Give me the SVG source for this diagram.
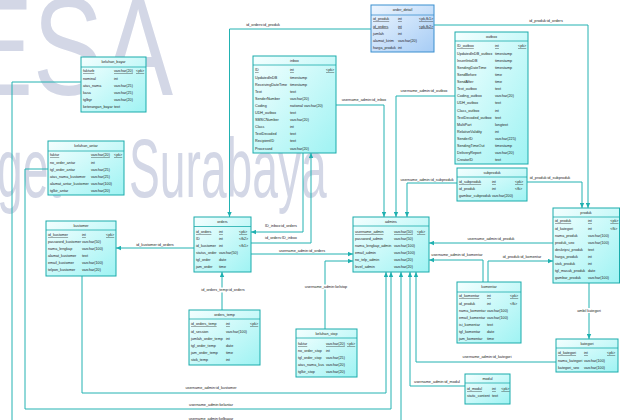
<svg xmlns="http://www.w3.org/2000/svg" width="621" height="420" viewBox="0 0 621 420">
  <defs>
    <linearGradient id="gT" x1="0" y1="0" x2="1" y2="1">
      <stop offset="0" stop-color="#f4ffff"/>
      <stop offset="1" stop-color="#9ff3f3"/>
    </linearGradient>
    <linearGradient id="gB" x1="0" y1="0" x2="1" y2="1">
      <stop offset="0" stop-color="#eef6ff"/>
      <stop offset="1" stop-color="#a6ccf5"/>
    </linearGradient>
    <marker id="arr" viewBox="0 0 8 8" refX="8" refY="4" markerWidth="5" markerHeight="5" markerUnits="userSpaceOnUse" orient="auto">
      <path d="M0,0.5 L8,4 L0,7.5 z" fill="#1fb0b0"/>
    </marker>
  </defs>
  <style>
    .wm { font-family: "Liberation Sans", Arial, sans-serif; fill: #d3d7e6; }
    .tb { fill: url(#gT); stroke: #1aabab; stroke-width: 1; }
    .tbb { fill: url(#gB); stroke: #3a8fcf; stroke-width: 1; }
    .sep { stroke: #1aabab; stroke-width: 0.8; }
    .sepb { stroke: #3a8fcf; stroke-width: 0.8; }
    text.t { font-family: "Liberation Sans", Arial, sans-serif; font-size: 3.7px; fill: #222; }
    text.l { font-family: "Liberation Sans", Arial, sans-serif; font-size: 3.8px; fill: #222; text-anchor: middle; }
    .h { text-anchor: middle; }
    .pk { text-decoration: underline; }
    .cn { fill: none; stroke: #22b2b2; stroke-width: 1; marker-end: url(#arr); }
    .bg { fill: #ffffff; }
  </style>

  <rect width="621" height="420" fill="#ffffff"/>

  <!-- watermark lettering -->
  <g id="watermark">
    <text class="wm" font-size="140" transform="translate(-37,95) scale(0.75,1)">ESA</text>
    <text class="wm" font-size="84" word-spacing="100" transform="translate(-3,197) scale(0.55,1)">get Surabaya</text>
  </g>

  <!-- relationships -->
  <g id="connectors">
    <path class="cn" d="M371,29 H229.5 V217"/>
    <path class="cn" d="M434,25 H588 V208"/>
    <path class="cn" d="M336,105 H384 V217"/>
    <path class="cn" d="M455,96 H396 V217"/>
    <path class="cn" d="M457,183 H407 V217"/>
    <path class="cn" d="M527,182 H582 V208"/>
    <path class="cn" d="M553,243 H429"/>
    <path class="cn" d="M483,282 V260 H429"/>
    <path class="cn" d="M488,282 V261 H553"/>
    <path class="cn" d="M589,283 V339"/>
    <path class="cn" d="M556,362 H416 V272"/>
    <path class="cn" d="M465,386 H410 V272"/>
    <path class="cn" d="M81,82 H12 V426 H401 V272"/>
    <path class="cn" d="M48,169 H25 V409 H391 V272"/>
    <path class="cn" d="M82,276 V393 H386 V272"/>
    <path class="cn" d="M194,248 H116"/>
    <path class="cn" d="M303,153 V232 H251"/>
    <path class="cn" d="M251,243 H311 V153"/>
    <path class="cn" d="M251,254 H353"/>
    <path class="cn" d="M325,329 V261 H353"/>
    <path class="cn" d="M222,310 V272"/>

    <rect class="bg" x="576" y="308" width="26" height="5"/>
    <rect class="bg" x="304" y="284.5" width="44" height="5"/>
    <rect class="bg" x="200" y="287.5" width="45" height="5"/>

    <text class="l" x="263" y="25.5">id_orders:id_produk</text>
    <text class="l" x="546" y="21.5">id_produk:id_orders</text>
    <text class="l" x="364" y="100.5">username_admin:id_inbox</text>
    <text class="l" x="424" y="91.5">username_admin:id_outbox</text>
    <text class="l" x="427" y="180.5">username_admin:id_subproduk</text>
    <text class="l" x="550" y="178.5">id_produk:id_subproduk</text>
    <text class="l" x="491" y="240">username_admin:id_produk</text>
    <text class="l" x="457" y="255.5">username_admin:id_komentar</text>
    <text class="l" x="522" y="257.5">id_produk:id_komentar</text>
    <text class="l" x="589" y="312.3">ambil kategori</text>
    <text class="l" x="487" y="357.5">username_admin:id_kategori</text>
    <text class="l" x="437" y="382.5">username_admin:id_modul</text>
    <text class="l" x="211" y="419.5">username_admin:kelbayar</text>
    <text class="l" x="211" y="406">username_admin:kelantar</text>
    <text class="l" x="211" y="388.5">username_admin:id_kustomer</text>
    <text class="l" x="155" y="246">id_kustomer:id_orders</text>
    <text class="l" x="281" y="226.5">ID_inbox:id_orders</text>
    <text class="l" x="281" y="239">id_orders:ID_inbox</text>
    <text class="l" x="302" y="251.5">username_admin:id_orders</text>
    <text class="l" x="326" y="288.3">username_admin:kelstop</text>
    <text class="l" x="223" y="291.3">id_orders_temp:id_orders</text>
  </g>

  <g id="order_detail">
    <rect class="tbb" x="371" y="5" width="63" height="47"/>
    <line class="sepb" x1="371" y1="15" x2="434" y2="15"/>
    <text class="t h" x="402.5" y="11.4">order_detail</text>
    <text class="t pk" y="20.4"><tspan x="373">id_produk</tspan><tspan x="398">int</tspan><tspan x="419">&lt;pk,fk1&gt;</tspan></text>
    <text class="t pk" y="27.6"><tspan x="373">id_orders</tspan><tspan x="398">int</tspan><tspan x="419">&lt;pk,fk2&gt;</tspan></text>
    <text class="t" y="34.8"><tspan x="373">jumlah</tspan><tspan x="398">int</tspan></text>
    <text class="t" y="42"><tspan x="373">alamat_kirim</tspan><tspan x="398">varchar(20)</tspan></text>
    <text class="t" y="49.2"><tspan x="373">harga_produk</tspan><tspan x="398">int</tspan></text>
  </g>

  <g id="keluhan_bayar">
    <rect class="tb" x="81" y="57" width="65" height="55"/>
    <line class="sep" x1="81" y1="67" x2="146" y2="67"/>
    <text class="t h" x="113.5" y="63.4">keluhan_bayar</text>
    <text class="t pk" y="72.4"><tspan x="83">fakturb</tspan><tspan x="114">varchar(20)</tspan><tspan x="136">&lt;pk&gt;</tspan></text>
    <text class="t" y="79.5"><tspan x="83">nominal</tspan><tspan x="114">int</tspan></text>
    <text class="t" y="86.6"><tspan x="83">atas_nama</tspan><tspan x="114">varchar(25)</tspan></text>
    <text class="t" y="93.7"><tspan x="83">kasa</tspan><tspan x="114">varchar(25)</tspan></text>
    <text class="t" y="100.8"><tspan x="83">tglbyr</tspan><tspan x="114">varchar(20)</tspan></text>
    <text class="t" y="107.9"><tspan x="83">keterangan_bayar</tspan><tspan x="114">text</tspan></text>
  </g>

  <g id="keluhan_antar">
    <rect class="tb" x="48" y="141" width="76" height="54"/>
    <line class="sep" x1="48" y1="151" x2="124" y2="151"/>
    <text class="t h" x="86" y="147.4">keluhan_antar</text>
    <text class="t pk" y="156.4"><tspan x="50">faktur</tspan><tspan x="91">varchar(20)</tspan><tspan x="114">&lt;pk&gt;</tspan></text>
    <text class="t" y="163.5"><tspan x="50">no_order_antar</tspan><tspan x="91">int</tspan></text>
    <text class="t" y="170.6"><tspan x="50">tgl_order_antar</tspan><tspan x="91">varchar(25)</tspan></text>
    <text class="t" y="177.7"><tspan x="50">atas_nama_kustomer</tspan><tspan x="91">varchar(25)</tspan></text>
    <text class="t" y="184.8"><tspan x="50">alamat_antar_kustomer</tspan><tspan x="91">varchar(100)</tspan></text>
    <text class="t" y="191.9"><tspan x="50">tglkir_antar</tspan><tspan x="91">varchar(20)</tspan></text>
  </g>

  <g id="kustomer">
    <rect class="tb" x="46" y="221" width="70" height="55"/>
    <line class="sep" x1="46" y1="230" x2="116" y2="230"/>
    <text class="t h" x="81" y="226.8">kustomer</text>
    <text class="t pk" y="236.4"><tspan x="48">id_kustomer</tspan><tspan x="82">int</tspan><tspan x="106">&lt;pk&gt;</tspan></text>
    <text class="t" y="243.4"><tspan x="48">password_kustomer</tspan><tspan x="82">varchar(50)</tspan></text>
    <text class="t" y="250.4"><tspan x="48">nama_lengkap</tspan><tspan x="82">varchar(100)</tspan></text>
    <text class="t" y="257.4"><tspan x="48">alamat_kustomer</tspan><tspan x="82">text</tspan></text>
    <text class="t" y="264.4"><tspan x="48">email_kustomer</tspan><tspan x="82">varchar(100)</tspan></text>
    <text class="t" y="271.4"><tspan x="48">telpon_kustomer</tspan><tspan x="82">varchar(20)</tspan></text>
  </g>

  <g id="inbox">
    <rect class="tb" x="253" y="56" width="83" height="97"/>
    <line class="sep" x1="253" y1="65" x2="336" y2="65"/>
    <text class="t h" x="294.5" y="61.8">inbox</text>
    <text class="t pk" y="71.4"><tspan x="255">ID</tspan><tspan x="290">int</tspan><tspan x="326">&lt;pk&gt;</tspan></text>
    <text class="t" y="78.5"><tspan x="255">UpdatedInDB</tspan><tspan x="290">timestamp</tspan></text>
    <text class="t" y="85.6"><tspan x="255">ReceivingDateTime</tspan><tspan x="290">timestamp</tspan></text>
    <text class="t" y="92.7"><tspan x="255">Text</tspan><tspan x="290">text</tspan></text>
    <text class="t" y="99.8"><tspan x="255">SenderNumber</tspan><tspan x="290">varchar(20)</tspan></text>
    <text class="t" y="106.9"><tspan x="255">Coding</tspan><tspan x="290">national varchar(20)</tspan></text>
    <text class="t" y="114"><tspan x="255">UDH_outbox</tspan><tspan x="290">text</tspan></text>
    <text class="t" y="121.1"><tspan x="255">SMSCNumber</tspan><tspan x="290">varchar(20)</tspan></text>
    <text class="t" y="128.2"><tspan x="255">Class</tspan><tspan x="290">int</tspan></text>
    <text class="t" y="135.3"><tspan x="255">TextDecoded</tspan><tspan x="290">text</tspan></text>
    <text class="t" y="142.4"><tspan x="255">RecipientID</tspan><tspan x="290">text</tspan></text>
    <text class="t" y="149.5"><tspan x="255">Processed</tspan><tspan x="290">varchar(20)</tspan></text>
  </g>

  <g id="outbox">
    <rect class="tb" x="455" y="32" width="73" height="132"/>
    <line class="sep" x1="455" y1="41" x2="528" y2="41"/>
    <text class="t h" x="491.5" y="37.8">outbox</text>
    <text class="t pk" y="47.4"><tspan x="457">ID_outbox</tspan><tspan x="495">int</tspan><tspan x="518">&lt;pk&gt;</tspan></text>
    <text class="t" y="54.5"><tspan x="457">UpdatedInDB_outbox</tspan><tspan x="495">timestamp</tspan></text>
    <text class="t" y="61.7"><tspan x="457">InsertIntoDB</tspan><tspan x="495">timestamp</tspan></text>
    <text class="t" y="68.8"><tspan x="457">SendingDateTime</tspan><tspan x="495">timestamp</tspan></text>
    <text class="t" y="75.9"><tspan x="457">SendBefore</tspan><tspan x="495">time</tspan></text>
    <text class="t" y="83"><tspan x="457">SendAfter</tspan><tspan x="495">time</tspan></text>
    <text class="t" y="90.2"><tspan x="457">Text_outbox</tspan><tspan x="495">text</tspan></text>
    <text class="t" y="97.3"><tspan x="457">Coding_outbox</tspan><tspan x="495">varchar(20)</tspan></text>
    <text class="t" y="104.4"><tspan x="457">UDH_outbox</tspan><tspan x="495">text</tspan></text>
    <text class="t" y="111.5"><tspan x="457">Class_outbox</tspan><tspan x="495">int</tspan></text>
    <text class="t" y="118.7"><tspan x="457">TextDecoded_outbox</tspan><tspan x="495">text</tspan></text>
    <text class="t" y="125.8"><tspan x="457">MultiPart</tspan><tspan x="495">longtext</tspan></text>
    <text class="t" y="132.9"><tspan x="457">RelativeValidity</tspan><tspan x="495">int</tspan></text>
    <text class="t" y="140"><tspan x="457">SenderID</tspan><tspan x="495">varchar(225)</tspan></text>
    <text class="t" y="147.2"><tspan x="457">SendingTimeOut</tspan><tspan x="495">timestamp</tspan></text>
    <text class="t" y="154.3"><tspan x="457">DeliveryReport</tspan><tspan x="495">varchar(20)</tspan></text>
    <text class="t" y="161.4"><tspan x="457">CreatorID</tspan><tspan x="495">text</tspan></text>
  </g>

  <g id="subproduk">
    <rect class="tb" x="457" y="168" width="70" height="33"/>
    <line class="sep" x1="457" y1="177" x2="527" y2="177"/>
    <text class="t h" x="492" y="173.8">subproduk</text>
    <text class="t pk" y="183.4"><tspan x="459">id_subproduk</tspan><tspan x="492">int</tspan><tspan x="515">&lt;pk&gt;</tspan></text>
    <text class="t" y="190.4"><tspan x="459">id_produk</tspan><tspan x="492">int</tspan><tspan x="515">&lt;fk&gt;</tspan></text>
    <text class="t" y="197.4"><tspan x="459">gambar_subproduk</tspan><tspan x="492">varchar(200)</tspan></text>
  </g>

  <g id="produk">
    <rect class="tb" x="553" y="208" width="66.5" height="75"/>
    <line class="sep" x1="553" y1="217" x2="619.5" y2="217"/>
    <text class="t h" x="586" y="213.8">produk</text>
    <text class="t pk" y="222.4"><tspan x="555">id_produk</tspan><tspan x="588">int</tspan><tspan x="610.3">&lt;pk&gt;</tspan></text>
    <text class="t" y="229.5"><tspan x="555">id_kategori</tspan><tspan x="588">int</tspan><tspan x="610.3">&lt;fk&gt;</tspan></text>
    <text class="t" y="236.7"><tspan x="555">nama_produk</tspan><tspan x="588">varchar(100)</tspan></text>
    <text class="t" y="243.8"><tspan x="555">produk_seo</tspan><tspan x="588">varchar(100)</tspan></text>
    <text class="t" y="250.9"><tspan x="555">deskripsi_produk</tspan><tspan x="588">text</tspan></text>
    <text class="t" y="258"><tspan x="555">harga_produk</tspan><tspan x="588">int</tspan></text>
    <text class="t" y="265.2"><tspan x="555">stok_produk</tspan><tspan x="588">int</tspan></text>
    <text class="t" y="272.3"><tspan x="555">tgl_masuk_produk</tspan><tspan x="588">date</tspan></text>
    <text class="t" y="279.4"><tspan x="555">gambar_produk</tspan><tspan x="588">varchar(100)</tspan></text>
  </g>

  <g id="kategori">
    <rect class="tb" x="556" y="339" width="62" height="33"/>
    <line class="sep" x1="556" y1="348" x2="618" y2="348"/>
    <text class="t h" x="587" y="344.8">kategori</text>
    <text class="t pk" y="354.4"><tspan x="558">id_kategori</tspan><tspan x="584">int</tspan><tspan x="607">&lt;pk&gt;</tspan></text>
    <text class="t" y="361.6"><tspan x="558">nama_kategori</tspan><tspan x="584">varchar(100)</tspan></text>
    <text class="t" y="368.8"><tspan x="558">kategori_seo</tspan><tspan x="584">varchar(100)</tspan></text>
  </g>

  <g id="komentar">
    <rect class="tb" x="457" y="282" width="64" height="61"/>
    <line class="sep" x1="457" y1="292" x2="521" y2="292"/>
    <text class="t h" x="489" y="288.4">komentar</text>
    <text class="t pk" y="297.4"><tspan x="459">id_komentar</tspan><tspan x="487">int</tspan><tspan x="510">&lt;pk&gt;</tspan></text>
    <text class="t" y="304.5"><tspan x="459">id_produk</tspan><tspan x="487">int</tspan><tspan x="510">&lt;fk&gt;</tspan></text>
    <text class="t" y="311.6"><tspan x="459">nama_komentar</tspan><tspan x="487">varchar(100)</tspan></text>
    <text class="t" y="318.7"><tspan x="459">email_komentar</tspan><tspan x="487">varchar(100)</tspan></text>
    <text class="t" y="325.8"><tspan x="459">isi_komentar</tspan><tspan x="487">text</tspan></text>
    <text class="t" y="332.9"><tspan x="459">tgl_komentar</tspan><tspan x="487">date</tspan></text>
    <text class="t" y="340"><tspan x="459">jam_komentar</tspan><tspan x="487">time</tspan></text>
  </g>

  <g id="modul">
    <rect class="tb" x="465" y="374" width="45" height="30"/>
    <line class="sep" x1="465" y1="383" x2="510" y2="383"/>
    <text class="t h" x="487.5" y="379.8">modul</text>
    <text class="t pk" y="390.4"><tspan x="467">id_modul</tspan><tspan x="492">int</tspan><tspan x="501.3">&lt;pk&gt;</tspan></text>
    <text class="t" y="397.4"><tspan x="467">static_content</tspan><tspan x="492">text</tspan></text>
  </g>

  <g id="admins">
    <rect class="tb" x="353" y="217" width="76" height="55"/>
    <line class="sep" x1="353" y1="226" x2="429" y2="226"/>
    <text class="t h" x="391" y="222.8">admins</text>
    <text class="t pk" y="233.4"><tspan x="355">username_admin</tspan><tspan x="394">varchar(50)</tspan><tspan x="417">&lt;pk&gt;</tspan></text>
    <text class="t" y="240.4"><tspan x="355">password_admin</tspan><tspan x="394">varchar(50)</tspan></text>
    <text class="t" y="247.4"><tspan x="355">nama_lengkap_admin</tspan><tspan x="394">varchar(100)</tspan></text>
    <text class="t" y="254.4"><tspan x="355">email_admin</tspan><tspan x="394">varchar(100)</tspan></text>
    <text class="t" y="261.4"><tspan x="355">no_telp_admin</tspan><tspan x="394">varchar(20)</tspan></text>
    <text class="t" y="268.4"><tspan x="355">level_admin</tspan><tspan x="394">varchar(20)</tspan></text>
  </g>

  <g id="orders">
    <rect class="tb" x="194" y="217" width="57" height="55"/>
    <line class="sep" x1="194" y1="226.5" x2="251" y2="226.5"/>
    <text class="t h" x="222.5" y="223">orders</text>
    <text class="t pk" y="233.4"><tspan x="196">id_orders</tspan><tspan x="219">int</tspan><tspan x="239">&lt;pk&gt;</tspan></text>
    <text class="t" y="240.4"><tspan x="196">ID</tspan><tspan x="219">int</tspan><tspan x="239">&lt;fk2&gt;</tspan></text>
    <text class="t" y="247.4"><tspan x="196">id_kustomer</tspan><tspan x="219">int</tspan><tspan x="239">&lt;fk1&gt;</tspan></text>
    <text class="t" y="254.4"><tspan x="196">status_order</tspan><tspan x="219">varchar(50)</tspan></text>
    <text class="t" y="261.4"><tspan x="196">tgl_order</tspan><tspan x="219">date</tspan></text>
    <text class="t" y="268.4"><tspan x="196">jam_order</tspan><tspan x="219">time</tspan></text>
  </g>

  <g id="orders_temp">
    <rect class="tb" x="189" y="310" width="71" height="55"/>
    <line class="sep" x1="189" y1="319" x2="260" y2="319"/>
    <text class="t h" x="224.5" y="315.8">orders_temp</text>
    <text class="t pk" y="325.4"><tspan x="191">id_orders_temp</tspan><tspan x="226">int</tspan><tspan x="250">&lt;pk&gt;</tspan></text>
    <text class="t" y="332.5"><tspan x="191">id_session</tspan><tspan x="226">varchar(100)</tspan></text>
    <text class="t" y="339.6"><tspan x="191">jumlah_order_temp</tspan><tspan x="226">int</tspan></text>
    <text class="t" y="346.7"><tspan x="191">tgl_order_temp</tspan><tspan x="226">date</tspan></text>
    <text class="t" y="353.8"><tspan x="191">jam_order_temp</tspan><tspan x="226">time</tspan></text>
    <text class="t" y="360.9"><tspan x="191">stok_temp</tspan><tspan x="226">int</tspan></text>
  </g>

  <g id="keluhan_stop">
    <rect class="tb" x="296" y="329" width="61" height="48"/>
    <line class="sep" x1="296" y1="338" x2="357" y2="338"/>
    <text class="t h" x="326.5" y="334.8">keluhan_stop</text>
    <text class="t pk" y="345.4"><tspan x="298">faktur</tspan><tspan x="326">varchar(20)</tspan><tspan x="347">&lt;pk&gt;</tspan></text>
    <text class="t" y="352.4"><tspan x="298">no_order_stop</tspan><tspan x="326">int</tspan></text>
    <text class="t" y="359.4"><tspan x="298">tgl_order_stop</tspan><tspan x="326">varchar(25)</tspan></text>
    <text class="t" y="366.4"><tspan x="298">atas_nama_kus</tspan><tspan x="326">varchar(20)</tspan></text>
    <text class="t" y="373.4"><tspan x="298">tglkir_stop</tspan><tspan x="326">varchar(20)</tspan></text>
  </g>
</svg>
